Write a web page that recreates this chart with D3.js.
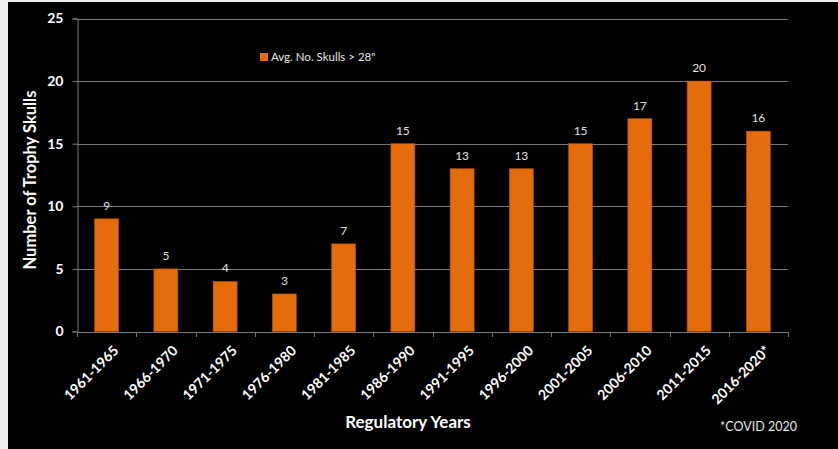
<!DOCTYPE html>
<html>

<head>
  <meta charset='utf-8'>
  <script src="https://cdn.jsdelivr.net/npm/d3@7"></script>
  <style>
    body { margin: 0; background: #ededed; }
    text { font-family: Lato, "Open Sans", sans-serif; }
  </style>
</head>

<body>
</body>
<script>
  let periods = ["1961-1965", "1966-1970", "1971-1975", "1976-1980", "1981-1985", "1986-1990",
    "1991-1995", "1996-2000", "2001-2005", "2006-2010", "2011-2015", "2016-2020*"]
  let skulls = [9, 5, 4, 3, 7, 15, 13, 13, 15, 17, 20, 16]
  let yTicks = [0, 5, 10, 15, 20, 25]

  let w = 838
  let h = 449
  let plotL = 77, plotR = 788, plotT = 18.5, plotB = 331.5

  let svg = d3.select('body')
    .append('svg')
    .attr('width', w)
    .attr('height', h)
    .style('display', 'block')

  // black panel
  svg.append('rect')
    .attr('x', 8).attr('y', 2)
    .attr('width', w - 8).attr('height', h - 2)
    .attr('fill', '#000')

  let band = d3.scaleBand()
    .domain(periods)
    .range([plotL, plotR])

  let yScale = d3.scaleLinear()
    .domain([0, 25])
    .range([plotB, plotT])

  // gridlines
  svg.append('g')
    .selectAll('line')
    .data(yTicks.filter(d => d > 0))
    .enter()
    .append('line')
    .attr('x1', plotL).attr('x2', plotR)
    .attr('y1', d => Math.round(yScale(d)) + 0.5)
    .attr('y2', d => Math.round(yScale(d)) + 0.5)
    .attr('stroke', '#7a7a7a')

  // bars
  svg.append('g')
    .selectAll('rect')
    .data(skulls)
    .enter()
    .append('rect')
    .attr('x', (d, i) => band(periods[i]) + band.bandwidth() / 2 - 12)
    .attr('y', d => yScale(d))
    .attr('width', 24)
    .attr('height', d => plotB - yScale(d))
    .attr('fill', '#e46c0a')
    .attr('stroke', '#b0500a')
    .attr('stroke-width', 0.6)

  // data labels
  svg.append('g')
    .selectAll('text')
    .data(skulls)
    .enter()
    .append('text')
    .attr('x', (d, i) => band(periods[i]) + band.bandwidth() / 2)
    .attr('y', d => yScale(d) - 9)
    .attr('text-anchor', 'middle')
    .attr('fill', '#e0e0e0')
    .attr('font-size', 12)
    .text(d => d)

  // y axis
  let yAxis = d3.axisLeft(yScale)
    .tickValues(yTicks)
    .tickSize(5)
    .tickPadding(9)
  let gy = svg.append('g')
    .attr('transform', 'translate(' + (plotL + 0.5) + ',0)')
    .call(yAxis)
  gy.select('.domain').attr('stroke', '#7a7a7a')
  gy.selectAll('.tick line').attr('stroke', '#7a7a7a')
  gy.selectAll('.tick text')
    .attr('fill', '#fff')
    .attr('font-size', 14)
    .attr('font-weight', 'bold')
    .style('font-family', 'Lato, sans-serif')

  // x axis
  let xAxis = d3.axisBottom(band)
    .tickSize(0)
    .tickFormat('')
  let gx = svg.append('g')
    .attr('transform', 'translate(0,' + (plotB + 0.5) + ')')
    .call(xAxis)
  gx.select('.domain').attr('stroke', '#7a7a7a')
  // tick marks between categories
  gx.selectAll('.sep')
    .data(d3.range(periods.length + 1))
    .enter()
    .append('line')
    .attr('x1', i => Math.round(plotL + i * band.step()) + 0.5)
    .attr('x2', i => Math.round(plotL + i * band.step()) + 0.5)
    .attr('y1', 0).attr('y2', 5)
    .attr('stroke', '#7a7a7a')

  svg.append('g')
    .selectAll('text')
    .data(periods)
    .enter()
    .append('text')
    .attr('transform', d => 'translate(' + (band(d) + band.bandwidth() / 2 + 6) + ',' + (plotB + 13) + ') rotate(-45)')
    .attr('text-anchor', 'end')
    .attr('dy', '0.7em')
    .attr('fill', '#fff')
    .attr('font-size', 14)
    .attr('font-weight', 'bold')
    .text(d => d)

  // axis titles
  svg.append('text')
    .attr('transform', 'translate(36,180) rotate(-90)')
    .attr('text-anchor', 'middle')
    .attr('fill', '#fff')
    .attr('font-size', 16.5)
    .attr('font-weight', 'bold')
    .text('Number of Trophy Skulls')

  svg.append('text')
    .attr('x', 408)
    .attr('y', 428)
    .attr('text-anchor', 'middle')
    .attr('fill', '#fff')
    .attr('font-size', 17)
    .attr('font-weight', 'bold')
    .text('Regulatory Years')

  svg.append('text')
    .attr('x', 720)
    .attr('y', 431)
    .attr('fill', '#e8e8e8')
    .attr('font-size', 12.5)
    .text('*COVID 2020')

  // legend
  svg.append('rect')
    .attr('x', 260).attr('y', 53)
    .attr('width', 8).attr('height', 8)
    .attr('fill', '#e46c0a')
  svg.append('text')
    .attr('x', 271)
    .attr('y', 61)
    .attr('fill', '#e8e8e8')
    .attr('font-size', 11.5)
    .text('Avg. No. Skulls > 28"')
</script>

</html>
